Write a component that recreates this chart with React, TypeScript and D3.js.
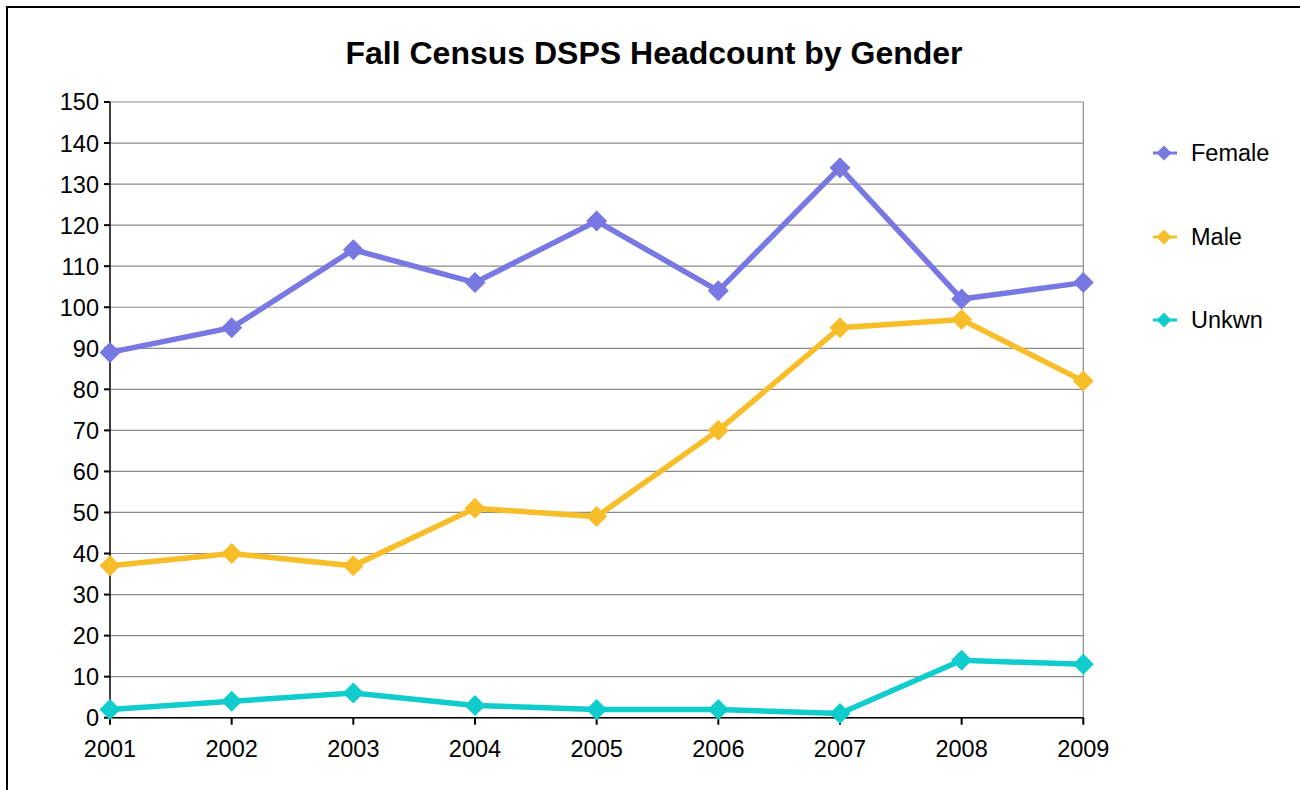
import React from "react";
import * as d3 from "d3";

const years = ["2001", "2002", "2003", "2004", "2005", "2006", "2007", "2008", "2009"];
const female = [89, 95, 114, 106, 121, 104, 134, 102, 106];
const male = [37, 40, 37, 51, 49, 70, 95, 97, 82];
const unkwn = [2, 4, 6, 3, 2, 2, 1, 14, 13];
const seriesNames = ["Female", "Male", "Unkwn"];
const seriesColors = ["#7878E2", "#F8BE2A", "#10CCCC"];
const yTicks = d3.range(0, 151, 10);
const title = "Fall Census DSPS Headcount by Gender";

const W = 1300;
const H = 790;
const left = 110;
const right = 1083.3;
const top = 102;
const bottom = 717.7;

export default function App() {
  const x = d3.scalePoint<string>().domain(years).range([left, right]);
  const y = d3.scaleLinear().domain([0, 150]).range([bottom, top]);
  const data = [female, male, unkwn];
  const line = d3
    .line<number>()
    .x((_, i) => x(years[i]) as number)
    .y((d) => y(d));
  const diamond = (cx: number, cy: number, r: number) =>
    `M${cx},${cy - r}L${cx + r},${cy}L${cx},${cy + r}L${cx - r},${cy}Z`;
  const font = "Liberation Sans, Arial, sans-serif";
  const legendY = [153, 237, 320];
  const fs = 23.5;

  return (
    <svg
      width={W}
      height={H}
      style={{ position: "absolute", left: 0, top: 0, background: "#fff" }}
      fontFamily={font}
    >
      <rect x={0} y={0} width={W} height={H} fill="#fff" />
      <rect x={7} y={7} width={W + 20} height={H + 20} fill="none" stroke="#000" strokeWidth={2} />
      <text x={654} y={64} textAnchor="middle" fontSize={32} fontWeight="bold" fill="#000">
        {title}
      </text>
      {/* grid */}
      {yTicks.map((t) => (
        <line key={"g" + t} x1={left} x2={right} y1={y(t)} y2={y(t)} stroke="#8a8a8a" strokeWidth={1.2} />
      ))}
      <line x1={right} x2={right} y1={top} y2={bottom} stroke="#8a8a8a" strokeWidth={1.2} />
      {/* y axis */}
      <line x1={left} x2={left} y1={top} y2={bottom + 6} stroke="#000" strokeWidth={1.5} />
      {yTicks.map((t) => (
        <g key={"t" + t}>
          <line x1={left - 6} x2={left} y1={y(t)} y2={y(t)} stroke="#000" strokeWidth={2} />
          <text x={99} y={y(t)} dy="0.36em" textAnchor="end" fontSize={fs} fill="#000">
            {t}
          </text>
        </g>
      ))}
      {/* x axis */}
      <line x1={left} x2={right} y1={bottom} y2={bottom} stroke="#000" strokeWidth={1.5} />
      {years.map((yr) => (
        <g key={yr}>
          <line x1={x(yr)} x2={x(yr)} y1={bottom} y2={bottom + 7} stroke="#000" strokeWidth={2} />
          <text x={x(yr)} y={757} textAnchor="middle" fontSize={fs} fill="#000">
            {yr}
          </text>
        </g>
      ))}
      {/* series */}
      {data.map((vals, si) => (
        <g key={seriesNames[si]}>
          <path d={line(vals) as string} fill="none" stroke={seriesColors[si]} strokeWidth={5.5} strokeLinejoin="miter" />
          {vals.map((v, i) => (
            <path key={i} d={diamond(x(years[i]) as number, y(v), 10.5)} fill={seriesColors[si]} />
          ))}
        </g>
      ))}
      {/* legend */}
      {seriesNames.map((n, i) => (
        <g key={"l" + n}>
          <line x1={1153} x2={1177} y1={legendY[i]} y2={legendY[i]} stroke={seriesColors[i]} strokeWidth={3} />
          <path d={diamond(1164, legendY[i], 7.5)} fill={seriesColors[i]} />
          <text x={1191} y={legendY[i]} dy="0.36em" fontSize={fs} fill="#000">
            {n}
          </text>
        </g>
      ))}
    </svg>
  );
}
